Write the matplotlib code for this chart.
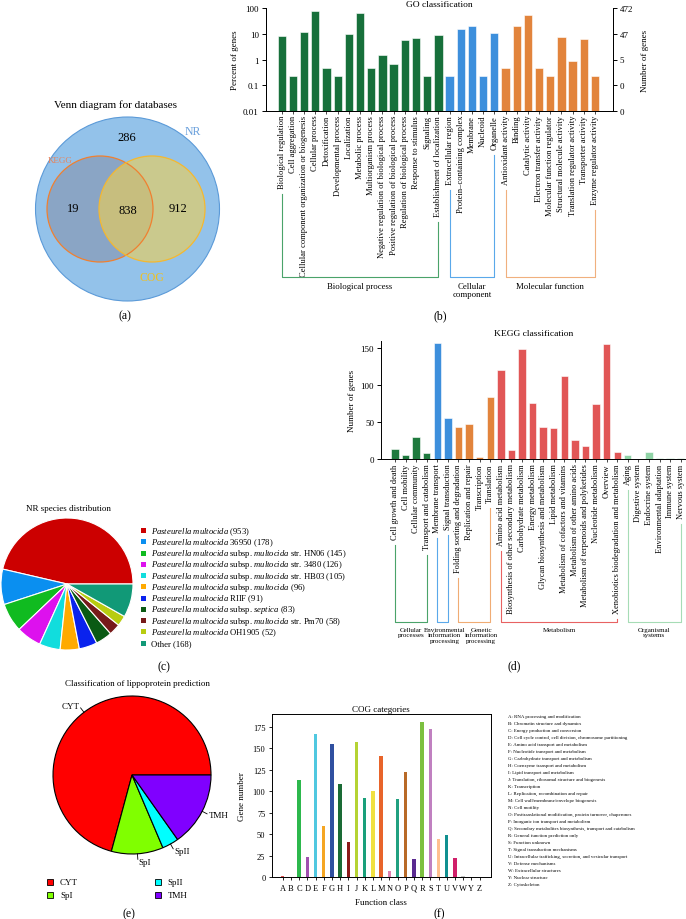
import matplotlib
matplotlib.use('Agg')
import matplotlib.pyplot as plt
from matplotlib.patches import Circle, Rectangle
from matplotlib.ticker import NullLocator
import numpy as np

plt.rcParams['font.family'] = ['Liberation Serif', 'DejaVu Serif']
plt.rcParams['mathtext.fontset'] = 'custom'
plt.rcParams['mathtext.rm'] = 'Liberation Serif'
plt.rcParams['mathtext.it'] = 'Liberation Serif:italic'
plt.rcParams['axes.linewidth'] = 0.7

# ---------------- data ----------------
# (a) Venn
venn_regions = ['NR only', 'KEGG only', 'KEGG & COG', 'COG only']
venn_values = [286, 19, 838, 912]

# (b) GO classification (percent of genes, 472 genes total)
go_terms = ['Biological regulation', 'Cell aggregation',
            'Cellular component organization or biogenesis', 'Cellular process',
            'Detoxification', 'Developmental process', 'Localization',
            'Metabolic process', 'Multiorganism process',
            'Negative regulation of biological process',
            'Positive regulation of biological process',
            'Regulation of biological process', 'Response to stimulus', 'Signaling',
            'Establishment of localization',
            'Extracellular region', 'Protein\u2013containing complex', 'Membrane',
            'Nucleoid', 'Organelle',
            'Antioxidant activity', 'Binding', 'Catalytic activity',
            'Electron transfer activity', 'Molecular function regulator',
            'Structural molecule activity', 'Translation regulator activity',
            'Transporter activity', 'Enzyme regulator activity']
go_percent = [8.0, 0.22, 12.2, 76, 0.45, 0.22, 9.6, 66, 0.45, 1.55, 0.67, 5.6, 7.1, 0.22, 9.3,
              0.22, 15.6, 20.4, 0.22, 10.5,
              0.45, 20, 56.5, 0.45, 0.22, 7.6, 0.87, 6.5, 0.22]
go_group_names = ['Biological process', 'Cellular\ncomponent', 'Molecular function']
go_group_sizes = [15, 5, 9]
go_right_ticks = ['0', '0', '5', '47', '472']

# (c) NR species distribution
nr_labels = [r'$\it{Pasteurella\ multocida}$ (953)',
             r'$\it{Pasteurella\ multocida}$ 36950 (178)',
             r'$\it{Pasteurella\ multocida}$ subsp. $\it{multocida}$ str. HN06 (145)',
             r'$\it{Pasteurella\ multocida}$ subsp. $\it{multocida}$ str. 3480 (126)',
             r'$\it{Pasteurella\ multocida}$ subsp. $\it{multocida}$ str. HB03 (105)',
             r'$\it{Pasteurella\ multocida}$ subsp. $\it{multocida}$ (96)',
             r'$\it{Pasteurella\ multocida}$ RIIF (91)',
             r'$\it{Pasteurella\ multocida}$ subsp. $\it{septica}$ (83)',
             r'$\it{Pasteurella\ multocida}$ subsp. $\it{multocida}$ str. Pm70 (58)',
             r'$\it{Pasteurella\ multocida}$ OH1905 (52)',
             'Other (168)']
nr_counts = [953, 178, 145, 126, 105, 96, 91, 83, 58, 52, 168]

# (d) KEGG classification
kegg_terms = ['Cell growth and death', 'Cell mobility', 'Cellular community',
              'Transport and catabolism',
              'Membrane transport', 'Signal transduction',
              'Folding sorting and degradation', 'Replication and repair',
              'Transcription', 'Translation',
              'Amino acid metabolism', 'Biosynthesis of other secondary metabolism',
              'Carbohydrate metabolism', 'Energy metabolism',
              'Glycan biosynthesis and metabolism', 'Lipid metabolism',
              'Metabolism of cofactors and vitamins', 'Metabolism of other amino acids',
              'Metabolism of terpenoids and polyketides', 'Nucleotide metabolism',
              'Overview', 'Xenobiotics biodegradation and metabolism',
              'Aging', 'Digestive system', 'Endocrine system',
              'Environmental adaptation', 'Immune system', 'Nervous system']
kegg_counts = [13.5, 6.3, 30.6, 8.1, 157, 56.3, 43.7, 47.3, 3.2, 83.8,
               120.3, 13, 149, 76.6, 43.7, 42.8, 113, 26, 18, 75.2, 155.4, 9.9,
               5.9, 1, 9.5, 1.4, 1.4, 1.4]
kegg_group_names = ['Cellular\nprocesses', 'Environmental\ninformation\nprocessing',
                    'Genetic\ninformation\nprocessing', 'Metabolism',
                    'Organismal\nsystems']
kegg_group_sizes = [4, 2, 4, 12, 6]

# (e) lipoprotein prediction
lipo_labels = ['CYT', 'SpI', 'SpII', 'TMH']
lipo_values = [70.8, 10.6, 3.4, 15.2]

# (f) COG categories
cog_letters = list('ABCDEFGHIJKLMNOPQRSTUVWYZ')
cog_counts = [1.2, 0, 113, 24, 166.5, 60, 155.6, 109, 41, 158, 92.5, 100.7, 141, 7,
              90.6, 122, 21.3, 181, 172.7, 44, 49.6, 22.8, 2, 0, 0]
cog_desc = ['RNA processing and modification', 'Chromatin structure and dynamics',
            'Energy production and conversion',
            'Cell cycle control, cell division, chromosome partitioning',
            'Amino acid transport and metabolism', 'Nucleotide transport and metabolism',
            'Carbohydrate transport and metabolism', 'Coenzyme transport and metabolism',
            'Lipid transport and metabolism',
            'Translation, ribosomal structure and biogenesis', 'Transcription',
            'Replication, recombination and repair',
            'Cell wall/membrane/envelope biogenesis', 'Cell motility',
            'Posttranslational modification, protein turnover, chaperones',
            'Inorganic ion transport and metabolism',
            'Secondary metabolites biosynthesis, transport and catabolism',
            'General function prediction only', 'Function unknown',
            'Signal transduction mechanisms',
            'Intracellular trafficking, secretion, and vesicular transport',
            'Defense mechanisms', 'Extracellular structures', 'Nuclear structure',
            'Cytoskeleton']

# ---------------- styles ----------------
go_colors = ['#17703b', '#3d8fdc', '#e2843c']
go_bracket_colors = ['#4aa36a', '#5aa8ea', '#f0b07e']
kegg_colors = ['#1f7a3e', '#3d8fdc', '#e2843c', '#e15656', '#90d3a6']
kegg_bracket_colors = ['#4aa36a', '#5aa8ea', '#f0ac74', '#e86262', '#a6dcb6']
nr_colors = ['#cc0000', '#0a8ff0', '#10bb20', '#dd11ee', '#11dddd', '#ffaa00',
             '#0a22ee', '#0a5a14', '#771a1a', '#b8cc10', '#119977']
lipo_colors = ['#ff0000', '#80ff00', '#00ffff', '#8000ff']
cog_colors = ['#e05050', '#999999', '#2db84d', '#a050b0', '#50c8e0', '#f5a623',
              '#3050a0', '#1a6b35', '#8b1a1a', '#b5d334', '#1aa07a', '#f0e040',
              '#e8642a', '#e080b0', '#20a080', '#b86a28', '#5a2a90', '#7cc040',
              '#c080c0', '#ffc090', '#109090', '#d0206a', '#c8c8c8', '#999999',
              '#999999']

W, H = 686, 920
fig = plt.figure(figsize=(W / 100, H / 100), dpi=100)


def px_axes(x0, y0, x1, y1):
    return fig.add_axes([x0 / W, 1 - y1 / H, (x1 - x0) / W, (y1 - y0) / H])


def expand(colors, sizes):
    out = []
    for c, n in zip(colors, sizes):
        out += [c] * n
    return out


# ---------------- (b) GO ----------------
ax = px_axes(265.7, 9.3, 612.7, 111.7)
x = np.arange(len(go_terms))
ax.bar(x, go_percent, width=0.74, color=expand(go_colors, go_group_sizes),
       edgecolor='white', linewidth=0.4)
ax.set_yscale('log')
ax.set_ylim(0.01, 100)
ax.set_xlim(-1.43, len(go_terms) + 0.58)
ax.yaxis.set_minor_locator(NullLocator())
ax.set_yticks([0.01, 0.1, 1, 10, 100])
ax.set_yticklabels(['0.01', '0.1', '1', '10', '100'], fontsize=6.5)
ax.set_xticks(x)
ax.set_xticklabels(go_terms, rotation=90, fontsize=6.1)
ax.tick_params(axis='x', length=2, width=0.5, pad=1)
ax.tick_params(axis='y', length=3, width=0.7, pad=2)
ax.spines['top'].set_visible(False)
ax.set_ylabel('Percent of genes', fontsize=6.5, labelpad=3)
ax.set_title('GO classification', fontsize=6.8, pad=2)
ax2 = ax.twinx()
ax2.set_yscale('log')
ax2.set_ylim(0.01, 100)
ax2.yaxis.set_minor_locator(NullLocator())
ax2.set_yticks([0.01, 0.1, 1, 10, 100])
ax2.set_yticklabels(go_right_ticks, fontsize=6.5)
ax2.tick_params(axis='y', length=3, width=0.7, pad=2)
ax2.spines['top'].set_visible(False)
ax2.set_ylabel('Number of genes', fontsize=6.5, labelpad=6)
go_ax = ax

# ---------------- (d) KEGG ----------------
ax = px_axes(381, 342, 686, 460.3)
x = np.arange(len(kegg_terms))
ax.bar(x, kegg_counts, width=0.7, color=expand(kegg_colors, kegg_group_sizes),
       edgecolor='white', linewidth=0.4)
ax.set_ylim(0, 160)
ax.set_xlim(-1.32, len(kegg_terms) - 0.5)
ax.set_yticks([0, 50, 100, 150])
ax.tick_params(axis='y', labelsize=6.5, length=3, width=0.7, pad=2)
ax.set_xticks(x)
ax.set_xticklabels(kegg_terms, rotation=90, fontsize=6.0)
ax.tick_params(axis='x', length=2, width=0.5, pad=1)
for s in ['top', 'right']:
    ax.spines[s].set_visible(False)
ax.set_ylabel('Number of genes', fontsize=6.5, labelpad=3)
ax.set_title('KEGG classification', fontsize=6.8, pad=4)
kegg_ax = ax

# ---------------- (c) NR pie ----------------
ax = px_axes(1, 519, 133, 651)
ax.pie(nr_counts, colors=nr_colors, startangle=0, counterclock=True,
       wedgeprops=dict(edgecolor='white', linewidth=0.8))
ax.set_xlim(-1, 1)
ax.set_ylim(-1, 1)

# ---------------- (e) lipoprotein pie ----------------
ax = px_axes(53, 697, 211, 855)
wedges, _ = ax.pie(lipo_values, colors=lipo_colors, startangle=0, counterclock=True,
                   wedgeprops=dict(edgecolor='black', linewidth=0.8))
ax.set_xlim(-1, 1)
ax.set_ylim(-1, 1)
for w, lab in zip(wedges, lipo_labels):
    th = np.deg2rad((w.theta1 + w.theta2) / 2)
    c, s = np.cos(th), np.sin(th)
    ax.plot([1.0 * c, 1.07 * c], [1.0 * s, 1.07 * s], color='black', lw=0.6,
            clip_on=False)
    ax.text(1.1 * c, 1.1 * s, lab, fontsize=6.5,
            ha='left' if c > 0 else 'right', va='center')

# ---------------- (f) COG ----------------
ax = px_axes(271.7, 715, 491, 878.3)
x = np.arange(len(cog_letters))
ax.bar(x, cog_counts, width=0.42, color=cog_colors)
ax.set_xlim(-1.35, len(cog_letters) + 0.4)
ax.set_ylim(0, 190)
ax.set_yticks(np.arange(0, 176, 25))
ax.set_xticks(x)
ax.set_xticklabels(cog_letters)
ax.tick_params(labelsize=6, length=2.5, width=0.6, pad=2)
ax.set_xlabel('Function class', fontsize=6.5, labelpad=5)
ax.set_ylabel('Gene number', fontsize=6.5, labelpad=5)
ax.set_title('COG categories', fontsize=6.5, pad=2)

# ---------------- overlay for annotations ----------------
ov = fig.add_axes([0, 0, 1, 1])
ov.set_xlim(0, W)
ov.set_ylim(H, 0)
ov.axis('off')
ov.patch.set_alpha(0)

# (a) Venn
ov.text(115, 105, 'Venn diagram for databases', fontsize=8, ha='center', va='center')
ov.add_patch(Circle((127.5, 210), 92, facecolor='#93c2ea', edgecolor='#5b9ad8', lw=0.8))
ov.add_patch(Circle((100, 210), 53, facecolor='#7a6f80', alpha=0.35, edgecolor='none'))
ov.add_patch(Circle((152, 210), 53, facecolor='#f0cf50', alpha=0.6, edgecolor='none'))
ov.add_patch(Circle((100, 210), 53, facecolor='none', edgecolor='#f08030', lw=0.9))
ov.add_patch(Circle((152, 210), 53, facecolor='none', edgecolor='#f5b830', lw=0.9))
for (vx, vy), v in zip([(127, 138), (73, 209), (128, 211), (178, 209)], venn_values):
    ov.text(vx, vy, str(v), fontsize=9, ha='center', va='center')
ov.text(193, 132, 'NR', fontsize=8.5, color='#6aa0dc', ha='center', va='center')
ov.text(60, 161, 'KEGG', fontsize=6.5, color='#e8825a', ha='center', va='center')
ov.text(152, 278, 'COG', fontsize=8.5, color='#f0c020', ha='center', va='center')

# (c) legend
for i, (lab, col) in enumerate(zip(nr_labels, nr_colors)):
    yy = 531.7 + i * 11.25
    ov.add_patch(Rectangle((140.5, yy - 2.5), 5, 5, facecolor=col, edgecolor='none'))
    ov.text(151, yy, lab, fontsize=6.2, ha='left', va='center')
ov.text(68, 509, 'NR species distribution', fontsize=6.5, ha='center', va='center')

# (e) legend + title
ov.text(137, 684, 'Classification of lippoprotein prediction', fontsize=6.5,
        ha='center', va='center')
for i, (lab, col) in enumerate(zip(lipo_labels, lipo_colors)):
    lx = 50 if i < 2 else 157.7
    ly = 882.7 if i % 2 == 0 else 896
    ov.add_patch(Rectangle((lx - 3, ly - 3), 6, 6, facecolor=col, edgecolor='black', lw=0.6))
    ov.text(lx + 10, ly, lab, fontsize=6.5, ha='left', va='center')

# (f) descriptions
for i, (letter, desc) in enumerate(zip(cog_letters, cog_desc)):
    ov.text(508, 717 + i * 7, letter + ': ' + desc, fontsize=3.55, ha='left', va='center')

# panel letters
for lab, (lx, ly) in zip(['(a)', '(b)', '(c)', '(d)', '(e)', '(f)'],
                         [(125, 316), (440, 316), (164, 667), (514, 666), (129, 914), (439, 914)]):
    ov.text(lx, ly, lab, fontsize=8.5, ha='center', va='center')

# brackets under rotated labels
fig.canvas.draw()
renderer = fig.canvas.get_renderer()


def brackets(ax, sizes, colors, names, bottom, fs, offsets):
    labels = ax.get_xticklabels()
    start = 0
    for n, col, name, dx in zip(sizes, colors, names, offsets):
        i0, i1 = start, start + n - 1
        start += n
        x0 = ax.transData.transform((i0, 1))[0]
        x1 = ax.transData.transform((i1, 1))[0]
        t0 = H - labels[i0].get_window_extent(renderer).y0 + 6
        t1 = H - labels[i1].get_window_extent(renderer).y0 + 6
        ov.plot([x0, x0, x1, x1], [t0, bottom, bottom, t1], color=col, lw=0.8)
        ov.text((x0 + x1) / 2 + dx, bottom + 5, name, fontsize=fs, ha='center', va='top',
                linespacing=1.1)


brackets(go_ax, go_group_sizes, go_bracket_colors, go_group_names, 277.7, 6.3, [0, 0, 0])
brackets(kegg_ax, kegg_group_sizes, kegg_bracket_colors, kegg_group_names, 622.7, 5.0,
         [0, 2, 7, 0, 0])

fig.savefig('out.png', dpi=100)
